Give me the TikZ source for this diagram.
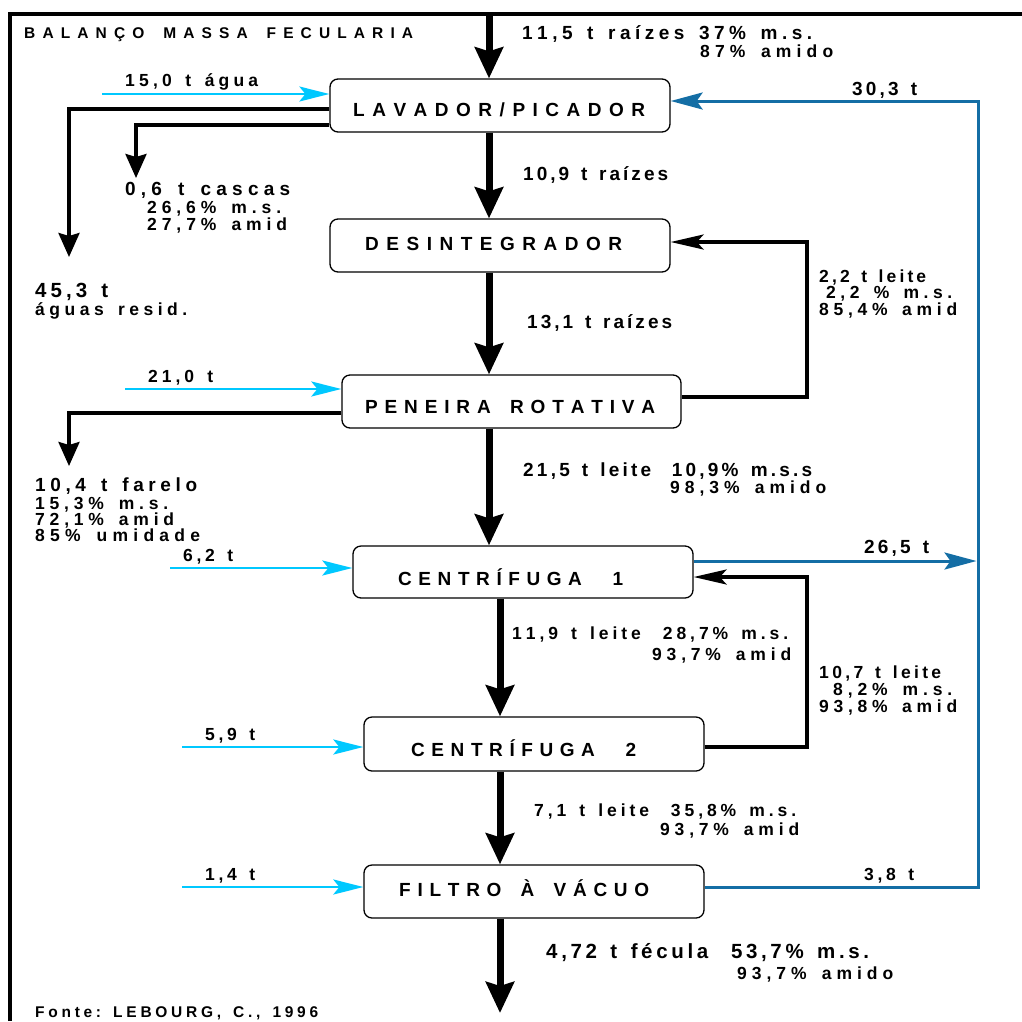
\documentclass[tikz,border=0pt]{standalone}
\usepackage{fontspec}
\setmainfont{Liberation Sans}
\usetikzlibrary{arrows.meta,calc}
\definecolor{cyanc}{RGB}{0,200,255}
\definecolor{bluec}{RGB}{20,110,165}
\ExplSyntaxOn
\seq_new:N \l_trk_seq
\NewDocumentCommand \trk { m m }
  {
    \hbox_to_wd:nn {#1}
      {
        \seq_set_split:Nnn \l_trk_seq { ~ } {#2}
        \seq_map_inline:Nn \l_trk_seq
          {
            \tl_map_inline:nn {##1} { ####1 \hskip 0pt plus 1fil \relax }
            \hskip 0.3em plus 1fil \relax
          }
        \unskip \unskip
      }
  }
\ExplSyntaxOff
\begin{document}
\begin{tikzpicture}[x=1pt,y=-1pt,
  box/.style={draw, rounded corners=8pt, line width=1.3pt, minimum width=340pt, minimum height=53pt, inner sep=0pt},
  bl/.style={anchor=base west, inner sep=0pt, font=\bfseries\fontsize{19}{20}\selectfont},
  ttl/.style={anchor=base west, inner sep=0pt, font=\bfseries\fontsize{15.5}{17}\selectfont},
  dA/.style={anchor=base west, inner sep=0pt, font=\bfseries\fontsize{19}{20}\selectfont},
  dB/.style={anchor=base west, inner sep=0pt, font=\bfseries\fontsize{17.5}{18}\selectfont},
  dC/.style={anchor=base west, inner sep=0pt, font=\bfseries\fontsize{20.5}{22}\selectfont},
  frame/.style={line width=4pt},
  main/.style={line width=7pt, -{Stealth[length=31pt,width=28pt,inset=4pt]}},
  outl/.style={line width=3.5pt, -{Stealth[length=24pt,width=21pt,inset=3pt]}},
  fb/.style={line width=3.5pt, -{Stealth[length=33pt,width=15pt,inset=7pt]}},
  inl/.style={cyanc, line width=2.5pt, -{Stealth[length=30pt,width=15pt,inset=6pt]}},
  bluarr/.style={bluec, line width=3pt, -{Stealth[length=32pt,width=17pt,inset=6pt]}}
]
\useasboundingbox (0,0) rectangle (1022,1021);

% frame
\coordinate (fc) at (9.5,1021);
\coordinate (fb) at (1022,14);
\draw[frame] (fc) |- (fb);

% boxes
\node[box] (lav) at (500,105.5) {};
\node[box] (des) at (500,245.5) {};
\node[box, minimum width=339pt] (pen) at (511.5,401.5) {};
\node[box, minimum height=52pt] (c1) at (523,572) {};
\node[box, minimum height=54pt] (c2) at (534,744) {};
\node[box] (fil) at (534,891.5) {};

\node[bl] (tlav) at (353,116) {\trk{292pt}{LAVADOR/PICADOR}};
\node[bl] (tdes) at (365,250) {\trk{257pt}{DESINTEGRADOR}};
\node[bl] (tpen) at (365,413) {\trk{290pt}{PENEIRA ROTATIVA}};
\node[bl] (tc1) at (398,585) {\trk{225pt}{CENTRÍFUGA ~1}};
\node[bl] (tc2) at (411,756) {\trk{225pt}{CENTRÍFUGA ~2}};
\node[bl] (tfil) at (399,896) {\trk{250pt}{FILTRO À VÁCUO}};

% main flow
\coordinate (mtop) at (489,12);
\coordinate (mout) at (500,1013);
\draw[main] (mtop) -- (lav.north -| mtop);
\draw[main] (lav.south -| mtop) -- (des.north -| mtop);
\draw[main] (des.south -| mtop) -- (pen.north -| mtop);
\draw[main] (pen.south -| mtop) -- (c1.north -| mtop);
\draw[main] (c1.south -| mout) -- (c2.north -| mout);
\draw[main] (c2.south -| mout) -- (fil.north -| mout);
\draw[main] (fil.south -| mout) -- (mout);

% left outputs
\coordinate (o1) at (69,257);
\coordinate (o2) at (136,178);
\coordinate (o3) at (69,466);
\draw[outl] ($(lav.west)+(0,3.5)$) -| (o1);
\draw[outl] ($(lav.west)+(0,19.5)$) -| (o2);
\draw[outl] ($(pen.west)+(0,11.5)$) -| (o3);

% water inputs
\coordinate (i1) at (102,94);
\coordinate (i2) at (125,389);
\coordinate (i3) at (170,568);
\coordinate (i4) at (182,747);
\coordinate (i5) at (182,887);
\draw[inl, line width=2pt] (i1) -- (i1 -| lav.west);
\draw[inl] (i2) -- (i2 -| pen.west);
\draw[inl] (i3) -- (i3 -| c1.west);
\draw[inl] (i4) -- (i4 -| c2.west);
\draw[inl] (i5) -- (i5 -| fil.west);

% black recycles
\coordinate (r1) at (807,397);
\coordinate (r2) at (807,242);
\coordinate (r3) at (807,747);
\coordinate (r4) at (807,577);
\draw[fb] (r1 -| pen.east) -- (r1) -- (r2) -- (r2 -| des.east);
\draw[fb] (r3 -| c2.east) -- (r3) -- (r4) -- (r4 -| c1.east);

% blue recycle
\coordinate (b1) at (976.5,561);
\coordinate (b2) at (978,887);
\coordinate (b3) at (978,101);
\draw[bluarr] (b1 -| c1.east) -- (b1);
\draw[bluarr] (b2 -| fil.east) -- (b2) -- (b3) -- (b3 -| lav.east);

% texts
\node[ttl] (title) at (24,38) {\trk{389pt}{BALANÇO MASSA FECULARIA}};
\node[dA] (l1a) at (522,39) {\trk{290pt}{11,5 t raízes 37\% m.s.}};
\node[dB] (l1b) at (700,57) {\trk{133pt}{87\% amido}};
\node[dB] (lag) at (125,86) {\trk{133pt}{15,0 t água}};
\node[dA] (l303) at (852,95) {\trk{65pt}{30,3 t}};
\node[dA] (lcas) at (125,195) {\trk{165pt}{0,6 t cascas}};
\node[dB] (lcas2) at (147,213) {\trk{134pt}{26,6\% m.s.}};
\node[dB] (lcas3) at (147,230) {\trk{140pt}{27,7\% amid}};
\node[dA] (l109) at (523,180) {\trk{145pt}{10,9 t raízes}};
\node[dC] (l453) at (35,297) {\trk{73pt}{45,3 t}};
\node[dB] (lagr) at (35,315) {\trk{152pt}{águas resid.}};
\node[dB] (l22a) at (819,282) {\trk{107pt}{2,2 t leite}};
\node[dB] (l22b) at (826,298) {\trk{126pt}{2,2 \% m.s.}};
\node[dB] (l22c) at (819,315) {\trk{138pt}{85,4\% amid}};
\node[dA] (l131) at (527,328) {\trk{145pt}{13,1 t raízes}};
\node[dB] (l210) at (148,382) {\trk{65pt}{21,0 t}};
\node[dA] (lfa) at (35,491) {\trk{162pt}{10,4 t farelo}};
\node[dB] (lfb) at (35,509) {\trk{133pt}{15,3\% m.s.}};
\node[dB] (lfc) at (35,525) {\trk{139pt}{72,1\% amid}};
\node[dB] (lfd) at (35,541) {\trk{165pt}{85\% umidade}};
\node[dA] (l215a) at (523,476) {\trk{289pt}{21,5 t leite ~10,9\% m.s.s}};
\node[dB] (l215b) at (670,493) {\trk{156pt}{98,3\% amido}};
\node[dA] (l265) at (864,553) {\trk{65pt}{26,5 t}};
\node[dB] (l62) at (183,561) {\trk{50pt}{6,2 t}};
\node[dB] (l119a) at (512,639) {\trk{276pt}{11,9 t leite ~28,7\% m.s.}};
\node[dB] (l119b) at (652,660) {\trk{139pt}{93,7\% amid}};
\node[dB] (l107a) at (819,678) {\trk{122pt}{10,7 t leite}};
\node[dB] (l107b) at (833,695) {\trk{119pt}{8,2\% m.s.}};
\node[dB] (l107c) at (819,712) {\trk{138pt}{93,8\% amid}};
\node[dB] (l59) at (205,740) {\trk{50pt}{5,9 t}};
\node[dB] (l71a) at (534,816) {\trk{262pt}{7,1 t leite ~35,8\% m.s.}};
\node[dB] (l71b) at (660,835) {\trk{139pt}{93,7\% amid}};
\node[dB] (l14) at (205,880) {\trk{50pt}{1,4 t}};
\node[dB] (l38) at (864,880) {\trk{50pt}{3,8 t}};
\node[dC] (l472a) at (546,958) {\trk{323pt}{4,72 t fécula ~53,7\% m.s.}};
\node[dB] (l472b) at (737,979) {\trk{156pt}{93,7\% amido}};
\node[ttl] (fonte) at (35,1017) {\trk{283pt}{Fonte: LEBOURG, C., 1996}};
\end{tikzpicture}
\end{document}
